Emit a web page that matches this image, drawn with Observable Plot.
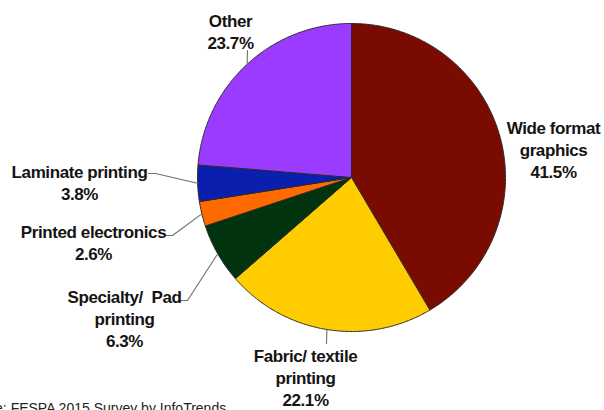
<!DOCTYPE html>
<html><head><meta charset="utf-8">
<script src="https://cdn.jsdelivr.net/npm/d3@7"></script>
<script src="https://cdn.jsdelivr.net/npm/@observablehq/plot@0.6"></script>
<style>
body{margin:0;background:#fff;overflow:hidden;}
g[font-weight="bold"] text{letter-spacing:-0.4px;}
</style></head><body><div id="chart"></div>
<script>
// ---- data ----
const categories = ["Wide format graphics","Fabric/ textile printing","Specialty/ Pad printing","Printed electronics","Laminate printing","Other"];
const shares = [41.5, 22.1, 6.3, 2.6, 3.8, 23.7];
const labelLines = ["Wide format\ngraphics","Fabric/ textile\nprinting","Specialty/  Pad\nprinting","Printed electronics","Laminate printing","Other"];
const caption = "Source: FESPA 2015 Survey by InfoTrends";

// ---- styles / layout ----
const colors = ["#7a0b00","#ffcc00","#00330e","#ff6a00","#0a1fad","#9b3bff"];
const R = 154;
const labelPos = [[202,59],[-46,-169],[-227,-110],[-258,-45],[-272,15],[-121,166]];
const leaderPts = [null, [[-25,-166]], [[-171,-123],[-164,-123]], [[-185,-58],[-179,-58]], [[-203,4],[-196,4]], [[-104,127]]];

const total = d3.sum(shares);
let acc = 0;
const slices = shares.map((v, i) => {
  const a0 = acc / total * 2 * Math.PI; acc += v;
  const a1 = acc / total * 2 * Math.PI;
  return {key: categories[i], a0, a1, mid: (a0 + a1) / 2, i};
});

const polyPts = [];
for (const s of slices) {
  polyPts.push({key: s.key, x: 0, y: 0});
  const n = Math.max(2, Math.ceil((s.a1 - s.a0) / (Math.PI / 360)));
  for (let k = 0; k <= n; k++) {
    const t = s.a0 + (s.a1 - s.a0) * k / n;
    polyPts.push({key: s.key, x: R * Math.sin(t), y: R * Math.cos(t)});
  }
  polyPts.push({key: s.key, x: 0, y: 0});
}

const leaderData = [];
slices.forEach(s => {
  const pts = leaderPts[s.i];
  if (!pts) return;
  pts.forEach(p => leaderData.push({key: s.key, x: p[0], y: p[1]}));
  leaderData.push({key: s.key, x: R * Math.sin(s.mid), y: R * Math.cos(s.mid)});
});

const labels = slices.map(s => ({
  text: `${labelLines[s.i]}\n${shares[s.i].toFixed(1)}%`,
  x: labelPos[s.i][0], y: labelPos[s.i][1]
}));

const chart = Plot.plot({
  width: 604, height: 410,
  margin: 0,
  x: {type: "linear", domain: [-351, 253], range: [0, 604], axis: null},
  y: {type: "linear", domain: [-233, 177], range: [410, 0], axis: null},
  color: {domain: categories, range: colors},
  style: {fontFamily: "'Liberation Sans', Arial, sans-serif", background: "#fff", overflow: "visible"},
  marks: [
    Plot.line(polyPts, {x: "x", y: "y", z: "key", fill: "key", stroke: "#2a2a2a", strokeWidth: 1, strokeLinejoin: "round"}),
    Plot.line(leaderData, {x: "x", y: "y", z: "key", stroke: "#6e6e6e", strokeWidth: 1.1}),
    Plot.text(labels, {x: "x", y: "y", text: "text", fontSize: 17, fontWeight: "bold", lineHeight: 1.3, lineAnchor: "top", textAnchor: "middle", fill: "#141414"}),
    Plot.text([caption], {frameAnchor: "bottom-left", text: d => d, dx: -42, dy: -7, lineAnchor: "top", textAnchor: "start", fontSize: 14, fill: "#222"})
  ]
});
document.getElementById("chart").appendChild(chart);
</script></body></html>
